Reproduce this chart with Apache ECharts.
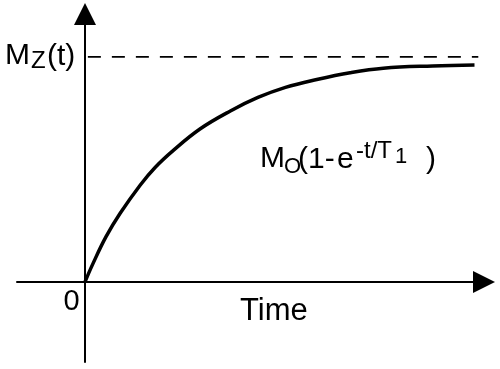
<!DOCTYPE html>
<html>
<head>
<meta charset="utf-8">
<script src="https://cdn.jsdelivr.net/npm/echarts@6/dist/echarts.min.js"></script>
<style>
html,body{margin:0;padding:0;background:#fff;}
#chart{width:500px;height:369px;}
</style>
</head>
<body>
<div id="chart"></div>
<script>
// time in units of T1, magnetisation in units of M0
var times = [0, 0.08, 0.22, 0.37, 0.58, 0.74, 0.93, 1.21, 1.53, 1.82, 2.11, 2.44, 2.79, 3.14, 3.66, 4.10];
var mz    = [0, 0.078, 0.20, 0.305, 0.43, 0.51, 0.585, 0.68, 0.76, 0.82, 0.865, 0.90, 0.93, 0.95, 0.96, 0.964];
// dashed asymptote level and its extent in time
var mzLevel = 1;
var dashTimes = [0.03, 4.14];

var curveData = times.map(function (t, i) { return [t, mz[i]]; });
var dashData = dashTimes.map(function (t) { return [t, mzLevel]; });

var FONT = 'Liberation Sans';
var arrow = 'path://M0,0 L10,20 L-10,20 Z';

function txt(x, y, s, size, align) {
  return {
    type: 'text', x: x, y: y, silent: true,
    style: { text: s, fill: '#000', font: size + 'px "' + FONT + '"', textAlign: align || 'left', textVerticalAlign: 'middle' }
  };
}

var chart = echarts.init(document.getElementById('chart'), null, { renderer: 'canvas' });
var axisCommon = {
  type: 'value',
  axisLine: { show: true, onZero: true, symbol: ['none', arrow], symbolSize: [22, 22], lineStyle: { color: '#000', width: 2 } },
  axisTick: { show: false },
  axisLabel: { show: false },
  splitLine: { show: false }
};
chart.setOption({
  animation: false,
  backgroundColor: '#fff',
  grid: { left: 17, right: 16, top: 14, bottom: 7, containLabel: false },
  xAxis: Object.assign({}, axisCommon, { min: -0.716, max: 4.2 }),
  yAxis: Object.assign({}, axisCommon, { min: -0.356, max: 1.191 }),
  series: [
    {
      type: 'line', data: curveData, smooth: 0.4, symbol: 'none', clip: false,
      lineStyle: { color: '#000', width: 3.5 }
    },
    {
      type: 'line', data: dashData, symbol: 'none', clip: false,
      lineStyle: { color: '#000', width: 1.8, type: [13, 11] }
    }
  ],
  graphic: [
    txt(5, 56, 'M', 30),
    txt(31, 61.5, 'Z', 24),
    txt(47, 57, '(t)', 30),
    txt(71.5, 302, '0', 29, 'center'),
    txt(240, 311, 'Time', 31),
    txt(260, 159, 'M', 30),
    txt(284, 166.5, 'O', 22),
    txt(298, 160, '(1-', 30),
    txt(337, 160, 'e', 30),
    txt(356, 151, '-t/T', 24),
    txt(395, 156.5, '1', 22),
    txt(426, 160, ')', 30)
  ]
});
</script>
</body>
</html>
